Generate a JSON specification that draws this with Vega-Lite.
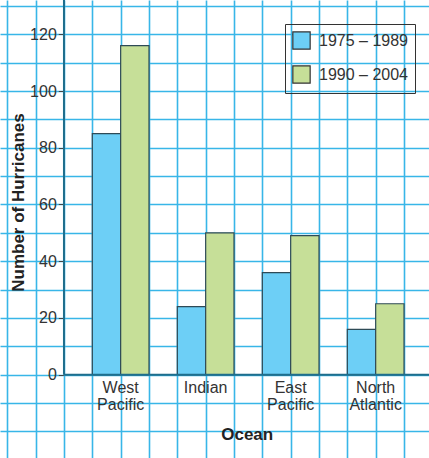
{
  "$schema": "https://vega.github.io/schema/vega-lite/v6.json",
  "width": 429,
  "height": 458,
  "autosize": {"type": "none"},
  "padding": 0,
  "background": "white",
  "config": {"view": {"stroke": null}, "font": "Liberation Sans"},
  "data": {
    "values": [
      {"ocean": "West Pacific", "period": "1975 – 1989", "count": 85},
      {"ocean": "West Pacific", "period": "1990 – 2004", "count": 116},
      {"ocean": "Indian", "period": "1975 – 1989", "count": 24},
      {"ocean": "Indian", "period": "1990 – 2004", "count": 50},
      {"ocean": "East Pacific", "period": "1975 – 1989", "count": 36},
      {"ocean": "East Pacific", "period": "1990 – 2004", "count": 49},
      {"ocean": "North Atlantic", "period": "1975 – 1989", "count": 16},
      {"ocean": "North Atlantic", "period": "1990 – 2004", "count": 25}
    ]
  },
  "layer": [
    {
      "data": {"values": [{}]},
      "mark": {"type": "point", "opacity": 0},
      "encoding": {
        "x": {
          "datum": 0, "type": "quantitative",
          "scale": {"domain": [-0.2576, 14.881], "nice": false, "zero": false},
          "axis": {"orient": "top", "values": [0,1,2,3,4,5,6,7,8,9,10,11,12,13,14], "grid": true, "gridColor": "#38b6e8", "gridWidth": 1.6, "gridOpacity": 1, "labels": false, "ticks": false, "domain": false, "title": null}
        },
        "y": {
          "datum": 0, "type": "quantitative",
          "scale": {"domain": [-29.37, 132.09], "nice": false, "zero": false},
          "axis": {"orient": "right", "values": [-20,-10,0,10,20,30,40,50,60,70,80,90,100,110,120,130], "grid": true, "gridColor": "#38b6e8", "gridWidth": 1.6, "gridOpacity": 1, "labels": false, "ticks": false, "domain": false, "title": null}
        }
      }
    },
    {
      "mark": {"type": "bar", "stroke": "#2e4a56", "strokeWidth": 1.2},
      "encoding": {
        "x": {
          "field": "ocean", "type": "nominal",
          "sort": ["West Pacific", "Indian", "East Pacific", "North Atlantic"],
          "scale": {"paddingInner": 0.3333, "paddingOuter": 0.69, "align": 0.787},
          "axis": {
            "orient": "bottom", "offset": -83.3, "labelAngle": 0,
            "labelExpr": "split(datum.label, ' ')",
            "labelFontSize": 16, "labelLineHeight": 17, "labelColor": "#333", "labelPadding": 5,
            "ticks": false, "domain": false, "grid": false,
            "title": "Ocean", "titleFontSize": 17, "titleFontWeight": "bold", "titleColor": "#222",
            "titleX": 246.7, "titleY": 59.3, "titleBaseline": "middle", "titleAlign": "center"
          }
        },
        "xOffset": {
          "field": "period", "type": "nominal",
          "scale": {"domain": ["1975 – 1989", "1990 – 2004"], "paddingInner": 0, "paddingOuter": 0}
        },
        "y": {
          "field": "count", "type": "quantitative",
          "scale": {"domain": [-29.37, 132.09], "nice": false, "zero": false},
          "axis": {
            "orient": "left", "offset": -63.3, "values": [0,20,40,60,80,100,120],
            "grid": false, "domain": false, "ticks": true, "tickSize": 5, "tickColor": "#444", "tickWidth": 1,
            "labelFontSize": 16, "labelPadding": 2, "labelColor": "#333",
            "title": "Number of Hurricanes", "titleFontSize": 17, "titleFontWeight": "bold", "titleColor": "#222",
            "titleX": -44.8, "titleY": 202, "titleAngle": 270, "titleAlign": "center", "titleBaseline": "middle"
          }
        },
        "y2": {"datum": 0},
        "color": {
          "field": "period", "type": "nominal",
          "scale": {"domain": ["1975 – 1989", "1990 – 2004"], "range": ["#6dcff6", "#c6df98"]},
          "legend": {
            "orient": "none", "legendX": 285, "legendY": 24, "direction": "vertical",
            "title": null, "strokeColor": "#333", "padding": 7,
            "symbolType": "square", "symbolSize": 300, "symbolStrokeColor": "#333", "symbolStrokeWidth": 1.2, "symbolOpacity": 1,
            "labelFontSize": 16, "labelColor": "#333", "labelOffset": 8, "rowPadding": 11
          }
        }
      }
    },
    {
      "data": {"values": [{}]},
      "mark": {"type": "rule", "color": "#1f6e8c", "strokeWidth": 2},
      "encoding": {
        "x": {"datum": 2, "type": "quantitative", "scale": {"domain": [-0.2576, 14.881], "nice": false, "zero": false}, "axis": null},
        "y": {"datum": 0, "type": "quantitative", "scale": {"domain": [-29.37, 132.09], "nice": false, "zero": false}, "axis": null},
        "y2": {"datum": 132.09}
      }
    },
    {
      "data": {"values": [{}]},
      "mark": {"type": "rule", "color": "#1f6e8c", "strokeWidth": 2},
      "encoding": {
        "x": {"datum": 2, "type": "quantitative", "scale": {"domain": [-0.2576, 14.881], "nice": false, "zero": false}, "axis": null},
        "x2": {"datum": 14.881},
        "y": {"datum": 0, "type": "quantitative", "scale": {"domain": [-29.37, 132.09], "nice": false, "zero": false}, "axis": null}
      }
    }
  ],
  "resolve": {
    "scale": {"x": "independent", "y": "independent"},
    "axis": {"x": "independent", "y": "independent"}
  }
}
